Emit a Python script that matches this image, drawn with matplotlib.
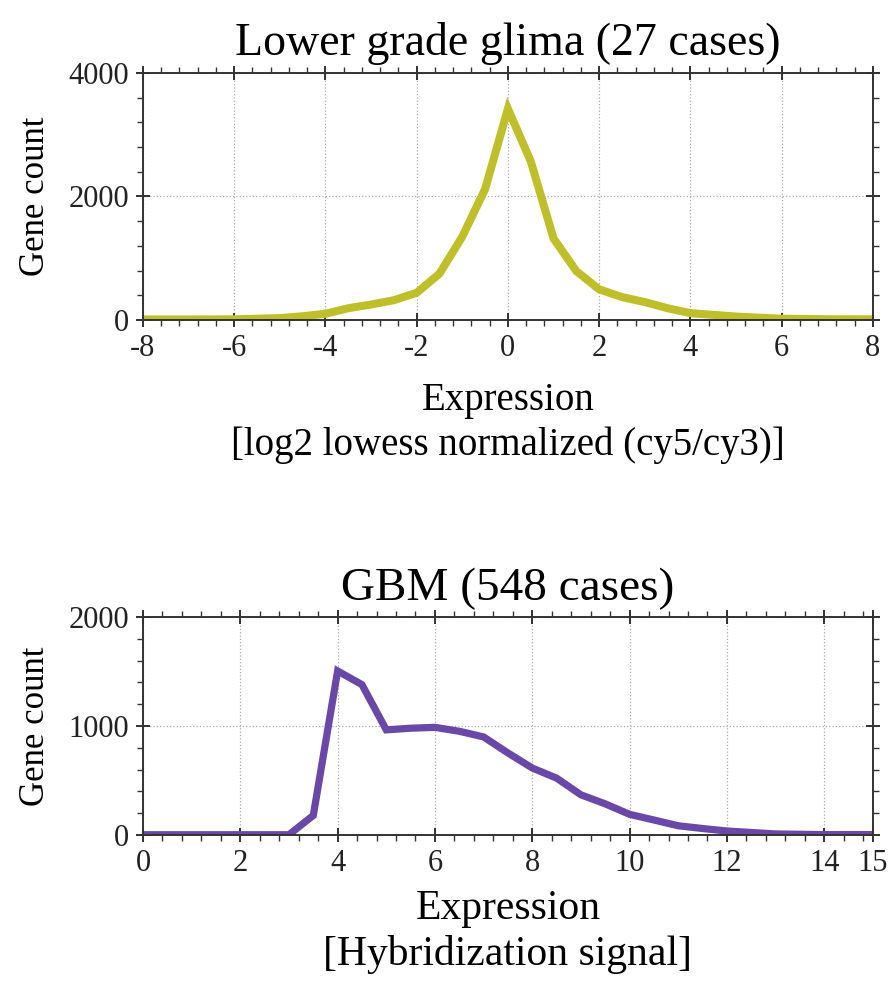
import matplotlib
matplotlib.use("Agg")
import matplotlib.pyplot as plt
from matplotlib.ticker import MultipleLocator

plt.rcParams["font.family"] = ["Liberation Serif", "DejaVu Serif"]
plt.rcParams["axes.unicode_minus"] = False

# Lower grade glioma: log2 lowess normalized expression histogram
lgg_x = [-8, -7, -6, -5, -4.5, -4, -3.5, -3, -2.5, -2, -1.5, -1, -0.5, 0,
         0.5, 1, 1.5, 2, 2.5, 3, 3.5, 4, 5, 6, 7, 8]
lgg_y = [8, 8, 10, 30, 60, 100, 190, 250, 320, 440, 750, 1350, 2120, 3420,
         2570, 1320, 790, 496, 370, 290, 190, 110, 55, 20, 12, 10]

# GBM: hybridization signal histogram
gbm_x = [0, 1, 2, 3, 3.5, 4, 4.5, 5, 5.5, 6, 6.5, 7, 7.5, 8, 8.5, 9, 9.5,
         10, 10.5, 11, 11.5, 12, 13, 14, 15]
gbm_y = [3, 3, 3, 3, 180, 1505, 1380, 965, 980, 988, 952, 900, 753, 615,
         522, 369, 286, 190, 138, 85, 60, 37, 10, 4, 4]

LGG_COLOR = "#bfbf2c"
GBM_COLOR = "#6a48a8"


def style_axes(ax):
    for side in ax.spines.values():
        side.set_color("#333333")
        side.set_linewidth(1.4)
    ax.tick_params(which="major", direction="inout", length=10, width=1.3,
                   top=True, right=True, labelsize=22, colors="#222222",
                   pad=5)
    ax.tick_params(which="minor", direction="out", length=4, width=1.0,
                   top=True, right=True, colors="#333333")
    ax.grid(True, which="major", linestyle=":", color="#aaaaaa",
            linewidth=0.9)
    ax.set_axisbelow(True)


fig = plt.figure(figsize=(8.88, 9.86), dpi=100)

ax1 = fig.add_axes([0.161, 0.6755, 0.822, 0.2505])
ax1.plot(lgg_x, lgg_y, color=LGG_COLOR, linewidth=5.8,
         solid_joinstyle="miter")
ax1.set_xlim(-8, 8)
ax1.set_ylim(0, 4000)
ax1.xaxis.set_major_locator(MultipleLocator(2))
ax1.xaxis.set_minor_locator(MultipleLocator(0.4))
ax1.yaxis.set_major_locator(MultipleLocator(2000))
ax1.yaxis.set_minor_locator(MultipleLocator(400))
style_axes(ax1)
ax1.set_title("Lower grade glima (27 cases)", fontsize=33, pad=13)
ax1.set_ylabel("Gene count", fontsize=25, labelpad=12)
ax1.set_xlabel("Expression\n[log2 lowess normalized (cy5/cy3)]",
               fontsize=28, linespacing=1.25, labelpad=14)

ax2 = fig.add_axes([0.161, 0.1531, 0.822, 0.2211])
ax2.plot(gbm_x, gbm_y, color=GBM_COLOR, linewidth=5.2,
         solid_joinstyle="miter")
ax2.set_xlim(0, 15)
ax2.set_ylim(0, 2000)
ax2.set_xticks([0, 2, 4, 6, 8, 10, 12, 14, 15])
ax2.xaxis.set_minor_locator(MultipleLocator(0.4))
ax2.yaxis.set_major_locator(MultipleLocator(1000))
ax2.yaxis.set_minor_locator(MultipleLocator(200))
style_axes(ax2)
ax2.set_title("GBM (548 cases)", fontsize=34, pad=12)
ax2.set_ylabel("Gene count", fontsize=25, labelpad=12)
ax2.set_xlabel("Expression\n[Hybridization signal]",
               fontsize=30, linespacing=1.25, labelpad=8)

fig.savefig("out.png", dpi=100)
plt.close(fig)
